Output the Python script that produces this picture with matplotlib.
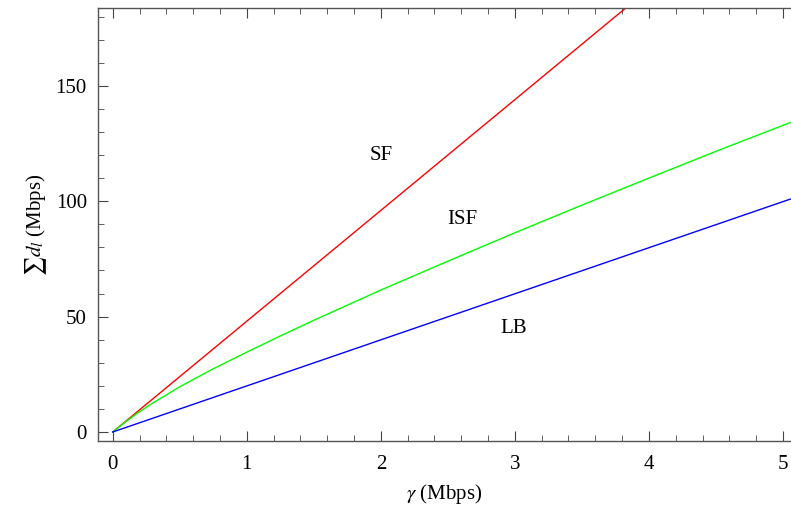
import numpy as np
import matplotlib
matplotlib.use("Agg")
import matplotlib.pyplot as plt
from matplotlib.ticker import MultipleLocator

plt.rcParams["font.family"] = ["Liberation Serif", "DejaVu Serif"]
plt.rcParams["mathtext.fontset"] = "stix"

# ---------------------------------------------------------------------------
# Data
# ---------------------------------------------------------------------------
gamma_sf = [0.0, 4.0]
sf = [0.0, 192.0]

gamma_isf = [0.0, 0.1, 0.2, 0.3, 0.5, 0.75, 1.0, 1.25, 1.5, 2.0, 2.5, 3.0, 3.5, 4.0, 4.5, 5.06]
isf = [0.0, 4.6, 8.8, 12.6, 19.6, 27.4, 34.6, 41.6, 48.4, 61.5, 74.0, 86.3, 98.3, 110.0, 121.6, 134.2]

gamma_lb = [0.0, 5.06]
lb = [0.0, 101.0]

labels = ["SF", "ISF", "LB"]
label_pos = [(2.0, 120.0), (2.61, 92.0), (2.99, 45.0)]

# ---------------------------------------------------------------------------
# Plot
# ---------------------------------------------------------------------------
fig = plt.figure(figsize=(7.91, 5.16), dpi=100)
ax = fig.add_axes([98 / 791, 75 / 516, 1 - 98 / 791, (441 - 8) / 516])

ax.plot(gamma_sf, sf, color=(1, 0, 0), lw=1.0)
ax.plot(gamma_isf, isf, color=(0, 1, 0), lw=1.0)
ax.plot(gamma_lb, lb, color=(0, 0, 1), lw=1.0)

for txt, (x, y) in zip(labels, label_pos):
    ax.text(x, y, txt, fontsize=15, ha="center", va="center")

ax.set_xlim(-0.11, 5.06)
ax.set_ylim(-3.9, 183.7)

ax.xaxis.set_major_locator(MultipleLocator(1))
ax.xaxis.set_minor_locator(MultipleLocator(0.2))
ax.yaxis.set_major_locator(MultipleLocator(50))
ax.yaxis.set_minor_locator(MultipleLocator(10))

ax.spines["right"].set_visible(False)
for side in ("left", "bottom", "top"):
    ax.spines[side].set_color("#555555")
    ax.spines[side].set_linewidth(1.0)

ax.tick_params(which="both", direction="in", top=True, right=False,
               labelsize=15, color="#444444")
ax.tick_params(axis="x", pad=10)
ax.tick_params(axis="y", pad=8)
ax.tick_params(which="major", length=7, width=0.8)
ax.tick_params(which="minor", length=4, width=0.6)

ax.set_xlabel(r"$\gamma$ (Mbps)", fontsize=15, labelpad=6)
ax.set_ylabel(r"$\sum d_l$ (Mbps)", fontsize=15, labelpad=5)

fig.savefig("out.png", dpi=100)
